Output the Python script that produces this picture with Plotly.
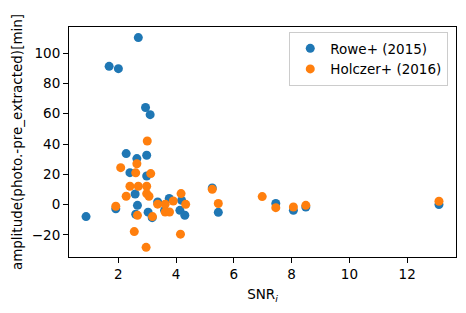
import plotly.graph_objects as go

# Rowe+ (2015)
rowe_snr = [0.88, 1.68, 2.00, 2.69, 2.94, 3.10, 2.27, 2.64, 2.98, 2.40, 2.98, 2.58,
            2.66, 2.60, 3.03, 3.17, 1.91, 3.36, 3.76, 4.19, 4.13, 4.30, 3.60,
            5.25, 5.46, 7.45, 8.06, 8.49, 13.10]
rowe_amp = [-7.9, 91.3, 89.8, 110.3, 64.1, 59.4, 33.7, 30.4, 32.6, 21.1, 18.9, 7.0,
            -0.5, -6.4, -5.0, -8.6, -2.8, 1.7, 4.0, 2.8, -3.8, -7.0, -3.8,
            11.0, -5.1, 0.7, -3.8, -1.6, 0.0]

# Holczer+ (2016)
holczer_snr = [3.00, 2.64, 2.08, 2.60, 3.12, 2.40, 2.69, 2.98, 2.98, 3.06, 2.27, 1.91,
               2.66, 3.18, 3.36, 3.62, 3.62, 3.77, 3.90, 4.17, 4.33, 2.55, 2.96, 4.15,
               5.25, 5.46, 6.98, 7.45, 8.06, 8.49, 13.10]
holczer_amp = [42.0, 27.0, 24.4, 21.0, 20.5, 12.1, 12.1, 12.1, 7.3, 5.5, 5.5, -1.1,
               -7.1, -7.9, 0.3, 0.3, -4.9, -4.9, 2.4, 7.3, 0.2, -17.8, -28.2, -19.5,
               10.1, 0.7, 5.3, -2.0, -1.6, -0.5, 2.2]

x_ticks = [2, 4, 6, 8, 10, 12]
y_ticks = [-20, 0, 20, 40, 60, 80, 100]

fig = go.Figure()
fig.add_trace(go.Scatter(x=rowe_snr, y=rowe_amp, mode="markers", name="Rowe+ (2015)",
                         marker=dict(color="#1f77b4", size=9, line=dict(width=0))))
fig.add_trace(go.Scatter(x=holczer_snr, y=holczer_amp, mode="markers", name="Holczer+ (2016)",
                         marker=dict(color="#ff7f0e", size=9, line=dict(width=0))))

axis_common = dict(showline=True, mirror=True, linecolor="black", linewidth=1,
                   ticks="outside", ticklen=5, tickcolor="black", showgrid=False,
                   zeroline=False, automargin=False,
                   tickfont=dict(size=13.5, color="black"))

fig.update_layout(
    width=466, height=313,
    margin=dict(l=69, r=10, t=27, b=56, autoexpand=False),
    paper_bgcolor="white", plot_bgcolor="white",
    font=dict(family="DejaVu Sans", size=13.5, color="black"),
    xaxis=dict(range=[0.29, 13.69], tickvals=x_ticks,
               title=dict(text="SNR<sub><i>i</i></sub>", font=dict(size=13.5), standoff=8),
               **axis_common),
    yaxis=dict(range=[-34.6, 117.3], tickvals=y_ticks,
               title=dict(text="amplitude(photo.-pre_extracted)[min]", font=dict(size=13.5), standoff=6),
               **axis_common),
    legend=dict(x=0.98, y=0.978, xanchor="right", yanchor="top",
                bgcolor="rgba(255,255,255,0.8)", bordercolor="#cccccc", borderwidth=1,
                font=dict(size=13.5)),
    showlegend=True,
)

fig.write_html("out.html", config={"displayModeBar": False},
               post_script="document.body.style.margin='0';document.body.style.padding='0';")
